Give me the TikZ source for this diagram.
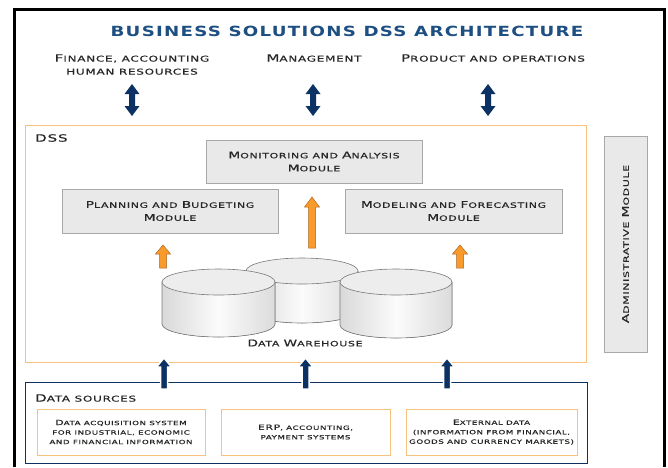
\documentclass[tikz,border=0pt]{standalone}
\usepackage{fontspec}
\setmainfont{DejaVu Sans}
\newfontfamily\lf{DejaVu Sans}[FakeStretch=1.5, LetterSpace=9, FakeBold=0.6]
\newfontfamily\tf{DejaVu Sans}[FakeStretch=1.3, LetterSpace=9]
\usetikzlibrary{calc}
\definecolor{navy}{HTML}{0C3263}
\definecolor{tblue}{HTML}{1E4F82}
\definecolor{ofill}{HTML}{F89A2C}
\definecolor{oline}{HTML}{B0641C}
\definecolor{obox}{HTML}{F7C27E}
\definecolor{gfill}{HTML}{E9E9E9}
\definecolor{gline}{HTML}{A8A8A8}
\definecolor{txt}{HTML}{262626}
\definecolor{cyl}{HTML}{7A7A7A}
\newcommand\K[1]{{\fontsize{10}{13}\selectfont #1}}
\newcommand\Km[1]{{\fontsize{9.2}{13}\selectfont #1}}
\newcommand\Ks[1]{{\fontsize{7.2}{9.5}\selectfont #1}}
% up arrow polygon from tail (#2) to tip (#3); #4 half shaft, #5 half head, #6 head length
\newcommand\uparr[6]{%
  \path[#1] let \p1=(#2), \p2=(#3) in
    ({\x1-#4},{\y1}) -- ({\x1-#4},{\y2-#6}) -- ({\x1-#5},{\y2-#6}) -- (\x1,\y2)
    -- ({\x1+#5},{\y2-#6}) -- ({\x1+#4},{\y2-#6}) -- ({\x1+#4},{\y1}) -- cycle;}
% double vertical arrow between top (#2) and bottom (#3)
\newcommand\dblarr[6]{%
  \path[#1] let \p1=(#2), \p2=(#3) in
    (\x1,\y1) -- ({\x1+#5},{\y1-#6}) -- ({\x1+#4},{\y1-#6}) -- ({\x1+#4},{\y2+#6})
    -- ({\x1+#5},{\y2+#6}) -- (\x1,\y2) -- ({\x1-#5},{\y2+#6}) -- ({\x1-#4},{\y2+#6})
    -- ({\x1-#4},{\y1-#6}) -- ({\x1-#5},{\y1-#6}) -- cycle;}
% cylinder: #1 cx, #2 top cy, #3 bottom cy, #4 rx, #5 ry
\newcommand\cylinder[5]{%
  \fill[left color=gray!30, right color=gray!28, middle color=gray!3]
    ({#1-#4},#2) -- ({#1-#4},#3) arc[start angle=180,end angle=0,x radius=#4,y radius=#5] -- ({#1+#4},#2) -- cycle;
  \draw[cyl, line width=0.6pt]
    ({#1-#4},#2) -- ({#1-#4},#3) arc[start angle=180,end angle=0,x radius=#4,y radius=#5] -- ({#1+#4},#2);
  \draw[cyl, line width=0.6pt, fill=gray!14] (#1,#2) ellipse[x radius=#4, y radius=#5];}
\tikzset{
  lab/.style={font=\lf\fontsize{8}{13}\selectfont, text=txt, align=center, inner sep=0pt},
  modlab/.style={font=\lf\fontsize{7.3}{13}\selectfont, text=txt, align=center, inner sep=0pt},
  slab/.style={font=\lf\fontsize{5.8}{9.5}\selectfont, text=txt, align=center, inner sep=0pt},
  ttl/.style={font=\tf\bfseries\fontsize{14}{16}\selectfont, text=tblue, inner sep=0pt},
  modbox/.style={draw=gline, fill=gfill, line width=0.7pt, inner sep=0pt},
  srcbox/.style={draw=obox, fill=white, line width=1pt, inner sep=0pt, minimum height=46pt},
  dblstyle/.style={fill=navy},
  upnavy/.style={fill=navy, draw=white, line width=1.5pt},
  uporange/.style={fill=ofill, draw=oline, line width=0.5pt},
}
\begin{document}
\begin{tikzpicture}[x=1pt,y=-1pt]
\useasboundingbox (0,0) rectangle (668,467);
% outer frame
\draw[line width=3pt] (14.5,467) -- (14.5,9) -- (664,9) -- (664,467);
% title and top labels
\node[ttl] (title) at (347,31) {BUSINESS SOLUTIONS DSS ARCHITECTURE};
\node[lab] (fin) at (132,64.5) {\K{F}INANCE, ACCOUNTING\\HUMAN RESOURCES};
\node[lab] (mgmt) at (314,58) {\K{M}ANAGEMENT};
\node[lab] (prod) at (493,58) {\K{P}RODUCT AND OPERATIONS};
% DSS box
\node[draw=obox, line width=1pt, minimum width=561pt, minimum height=237pt, inner sep=0pt] (dss) at (305.5,243.5) {};
\node[lab, anchor=west] (dsslbl) at (35,138) {\K{DSS}};
% modules
\node[modbox, minimum width=216pt, minimum height=43pt] (mon) at (314,161.5) {};
\node[modlab] (monlbl) at (mon) {\Km{M}ONITORING AND \Km{A}NALYSIS\\\Km{M}ODULE};
\node[modbox, minimum width=216pt, minimum height=44pt] (plan) at (170,211) {};
\node[modlab] (planlbl) at (plan) {\Km{P}LANNING AND \Km{B}UDGETING\\\Km{M}ODULE};
\node[modbox, minimum width=217pt, minimum height=44pt] (model) at (453.5,211) {};
\node[modlab] (modellbl) at (model) {\Km{M}ODELING AND \Km{F}ORECASTING\\\Km{M}ODULE};
\node[modbox, minimum width=43pt, minimum height=216pt] (admin) at (625.5,244) {};
\node[modlab, rotate=90] (adminlbl) at (admin) {\Km{A}DMINISTRATIVE \Km{M}ODULE};
% data warehouse
\cylinder{302}{271}{310}{56}{13}
\cylinder{218.5}{282}{324}{56.5}{13}
\cylinder{396}{282}{325}{56}{13}
\coordinate (cylL) at (163,268);
\coordinate (cylM) at (312,248);
\coordinate (cylR) at (460,268);
\node[modlab] (dw) at (305,343) {\Km{D}ATA \Km{W}AREHOUSE};
% orange arrows
\coordinate (tipL) at (163,245);
\coordinate (tipM) at (312,197);
\coordinate (tipR) at (460,245);
\uparr{uporange}{cylL}{tipL}{3.5pt}{7.5pt}{9pt}
\uparr{uporange}{cylM}{tipM}{3.5pt}{7.5pt}{10pt}
\uparr{uporange}{cylR}{tipR}{3.5pt}{7.5pt}{9pt}
% double arrows
\coordinate (d1t) at (132,84); \coordinate (d1b) at (132,116);
\coordinate (d2t) at (313,84); \coordinate (d2b) at (313,116);
\coordinate (d3t) at (488,84); \coordinate (d3b) at (488,116);
\dblarr{dblstyle}{d1t}{d1b}{3pt}{7.5pt}{10pt}
\dblarr{dblstyle}{d2t}{d2b}{3pt}{7.5pt}{10pt}
\dblarr{dblstyle}{d3t}{d3b}{3pt}{7.5pt}{10pt}
% data sources
\node[draw=navy, line width=1pt, minimum width=562pt, minimum height=81pt, inner sep=0pt] (src) at (306,422.5) {};
\node[lab, anchor=west] (srclbl) at (35,398) {\K{D}ATA SOURCES};
\node[srcbox, minimum width=168pt] (s1) at (121,432) {};
\node[slab] (s1lbl) at (s1) {\Ks{D}ATA ACQUISITION SYSTEM\\FOR INDUSTRIAL, ECONOMIC\\AND FINANCIAL INFORMATION};
\node[srcbox, minimum width=169pt] (s2) at (305.5,432) {};
\node[slab] (s2lbl) at (s2) {\Ks{ERP}, ACCOUNTING,\\PAYMENT SYSTEMS};
\node[srcbox, minimum width=171pt] (s3) at (491.5,432) {};
\node[slab] (s3lbl) at (s3) {\Ks{E}XTERNAL DATA\\(INFORMATION FROM FINANCIAL,\\GOODS AND CURRENCY MARKETS)};
% blue arrows up
\coordinate (b1) at (164,389); \coordinate (b1t) at (164,358);
\coordinate (b2) at (305.5,389); \coordinate (b2t) at (305.5,358);
\coordinate (b3) at (447,389); \coordinate (b3t) at (447,358);
\uparr{upnavy}{b1}{b1t}{3.5pt}{7.5pt}{9pt}
\uparr{upnavy}{b2}{b2t}{3.5pt}{7.5pt}{9pt}
\uparr{upnavy}{b3}{b3t}{3.5pt}{7.5pt}{9pt}
\end{tikzpicture}
\end{document}
